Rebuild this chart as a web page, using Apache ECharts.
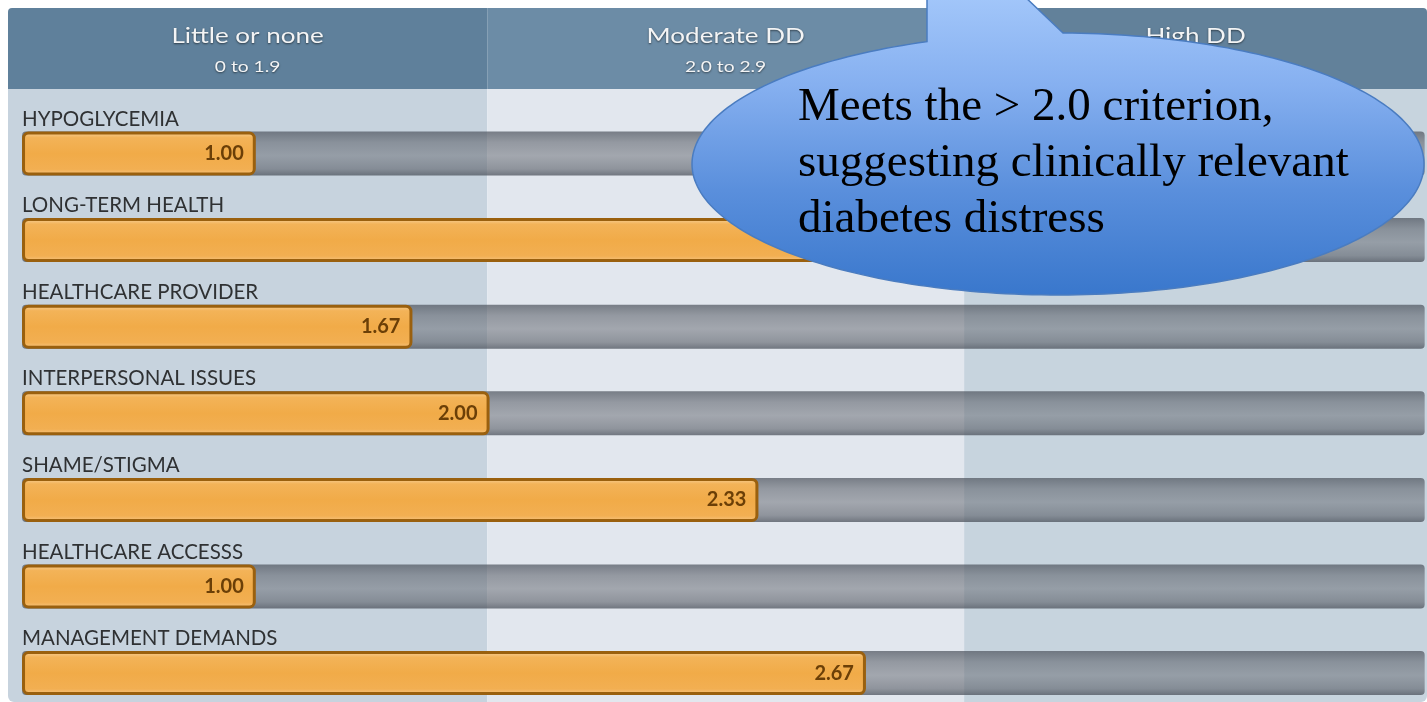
<!DOCTYPE html>
<html>
<head>
<meta charset="utf-8">
<script src="https://cdn.jsdelivr.net/npm/echarts@6/dist/echarts.min.js"></script>
<style>
html,body{margin:0;padding:0;background:#ffffff;}
#chart{width:1427px;height:702px;}
</style>
</head>
<body>
<div id="chart"></div>
<script>
// ---- data ----
const categories = ['HYPOGLYCEMIA', 'LONG-TERM HEALTH', 'HEALTHCARE PROVIDER', 'INTERPERSONAL ISSUES', 'SHAME/STIGMA', 'HEALTHCARE ACCESSS', 'MANAGEMENT DEMANDS'];
const scores = ['1.00', '2.67', '1.67', '2.00', '2.33', '1.00', '2.67'];
// bar extents as drawn on the 0–6 track
const barLengths = [1.00, 3.61, 1.67, 2.00, 3.15, 1.00, 3.61];
const trackValues = [6, 6, 6, 6, 6, 6, 6];
const bandNames = ['Little or none', 'Moderate DD', 'High DD'];
const bandRanges = ['0 to 1.9', '2.0 to 2.9', '3.0 +'];
const bandStarts = [-0.06, 1.99, 4.03];
const bandEnds = [1.99, 4.03, 6.01];
const calloutLines = ['Meets the > 2.0 criterion,', 'suggesting clinically relevant', 'diabetes distress'];

// ---- styles ----
const headerColors = ['#5f809b', '#6c8ca6', '#62819a'];
const bodyColors = ['#c7d3de', '#e2e7ee', '#c7d4de'];

const chart = echarts.init(document.getElementById('chart'), null, {renderer: 'canvas'});

function bandRect(params, api, isHeader) {
  const i = params.dataIndex;
  const x0 = api.coord([api.value(0), 0])[0];
  const x1 = api.coord([api.value(1), 0])[0];
  const cs = params.coordSys;
  const n = bandNames.length;
  let r;
  if (isHeader) r = i === 0 ? [4, 0, 0, 0] : (i === n - 1 ? [0, 4, 0, 0] : 0);
  else r = i === 0 ? [0, 0, 0, 6] : (i === n - 1 ? [0, 0, 6, 0] : 0);
  const children = [{
    type: 'rect',
    shape: {x: x0, y: cs.y, width: x1 - x0, height: cs.height, r: r},
    style: {fill: isHeader ? headerColors[i] : bodyColors[i]}
  }];
  if (isHeader) {
    const shadow = {textShadowColor: 'rgba(0,0,0,0.55)', textShadowBlur: 2, textShadowOffsetY: 1};
    children.push({
      type: 'text', x: (x0 + x1) / 2, y: cs.y + 28, scaleX: 1.24,
      style: Object.assign({text: bandNames[i], x: 0, y: 0, align: 'center', verticalAlign: 'middle',
        fontFamily: 'Lato', fontSize: 21, fill: '#f3f4f5'}, shadow)
    });
    children.push({
      type: 'text', x: (x0 + x1) / 2, y: cs.y + 59, scaleX: 1.2,
      style: Object.assign({text: bandRanges[i], x: 0, y: 0, align: 'center', verticalAlign: 'middle',
        fontFamily: 'Lato', fontSize: 16, fill: '#f3f4f5'}, shadow)
    });
  }
  return {type: 'group', children: children};
}

const bandData = bandStarts.map((s, i) => [s, bandEnds[i], 0]);

// callout outline (oval with a tail pointing upward) — annotation shape
const calloutPoints = (function () {
  const cx = 1058, cy = 164, rx = 366, ry = 131;
  const pts = [[927, -6], [1022, -6]];
  const t0 = -1.5571, t1 = 4.3464, steps = 240;
  for (let k = 0; k <= steps; k++) {
    const t = t0 + (t1 - t0) * k / steps;
    pts.push([cx + rx * Math.cos(t), cy + ry * Math.sin(t)]);
  }
  return pts;
})();

const option = {
  animation: false,
  grid: [
    {left: 8, right: 0, top: 8, height: 81, outerBoundsMode: 'none'},
    {left: 8, right: 0, top: 89, bottom: 0, outerBoundsMode: 'none'},
    {left: 8, right: 0, top: 110.2, height: 606.2, outerBoundsMode: 'none'}
  ],
  xAxis: [0, 1, 2].map(i => ({type: 'value', gridIndex: i, min: -0.06, max: 6.01, show: false})),
  yAxis: [
    {type: 'value', gridIndex: 0, min: 0, max: 1, show: false},
    {type: 'value', gridIndex: 1, min: 0, max: 1, show: false},
    {type: 'category', gridIndex: 2, data: categories, inverse: true, show: false}
  ],
  series: [
    {
      type: 'custom', xAxisIndex: 0, yAxisIndex: 0, data: bandData, encode: {x: [0, 1], y: 2},
      renderItem: (p, api) => bandRect(p, api, true), silent: true, z: 1
    },
    {
      type: 'custom', xAxisIndex: 1, yAxisIndex: 1, data: bandData, encode: {x: [0, 1], y: 2},
      renderItem: (p, api) => bandRect(p, api, false), silent: true, z: 1
    },
    {
      type: 'bar', xAxisIndex: 2, yAxisIndex: 2, data: trackValues, barWidth: 44, barGap: '-100%', silent: true, z: 2,
      itemStyle: {
        borderRadius: 4,
        color: {type: 'linear', x: 0, y: 0, x2: 0, y2: 1, colorStops: [
          {offset: 0, color: 'rgba(78,84,94,0.72)'},
          {offset: 0.25, color: 'rgba(96,101,110,0.6)'},
          {offset: 0.55, color: 'rgba(104,108,116,0.52)'},
          {offset: 0.85, color: 'rgba(92,97,106,0.62)'},
          {offset: 1, color: 'rgba(74,80,90,0.75)'}
        ]}
      },
      label: {
        show: true, position: [0, -2], align: 'left', verticalAlign: 'bottom',
        formatter: p => p.name, fontFamily: 'Lato', fontSize: 20.5, color: '#2f3133'
      }
    },
    {
      type: 'bar', xAxisIndex: 2, yAxisIndex: 2, data: barLengths, barWidth: 44, silent: true, z: 3,
      itemStyle: {
        borderRadius: 5, borderColor: '#9a600e', borderWidth: 3,
        color: {type: 'linear', x: 0, y: 0, x2: 0, y2: 1, colorStops: [
          {offset: 0, color: '#f8d29c'},
          {offset: 0.14, color: '#f3b358'},
          {offset: 0.5, color: '#f1ab48'},
          {offset: 0.86, color: '#f2af52'},
          {offset: 1, color: '#f7c787'}
        ]}
      },
      label: {
        show: true, position: 'insideRight', distance: 12,
        formatter: p => scores[p.dataIndex],
        fontFamily: 'Lato', fontWeight: 'bold', fontSize: 20, color: '#6b3f07'
      }
    }
  ],
  graphic: {
    elements: [
      {
        type: 'polygon', z: 100, silent: true,
        shape: {points: calloutPoints},
        style: {
          fill: {type: 'linear', x: 0, y: -6, x2: 0, y2: 296, global: true, colorStops: [
            {offset: 0, color: '#a3c7fa'},
            {offset: 0.3, color: '#86b0f0'},
            {offset: 0.65, color: '#5a8fdc'},
            {offset: 1, color: '#3977cc'}
          ]},
          stroke: '#4a7cc0', lineWidth: 1.5
        }
      },
      {
        type: 'text', z: 101, silent: true, x: 798, y: 80,
        style: {
          text: calloutLines.join('\n'), fontFamily: '"Liberation Serif", "Times New Roman", serif',
          fontSize: 47, lineHeight: 56, fill: '#000000', align: 'left', verticalAlign: 'top'
        }
      }
    ]
  }
};
chart.setOption(option);
</script>
</body>
</html>
